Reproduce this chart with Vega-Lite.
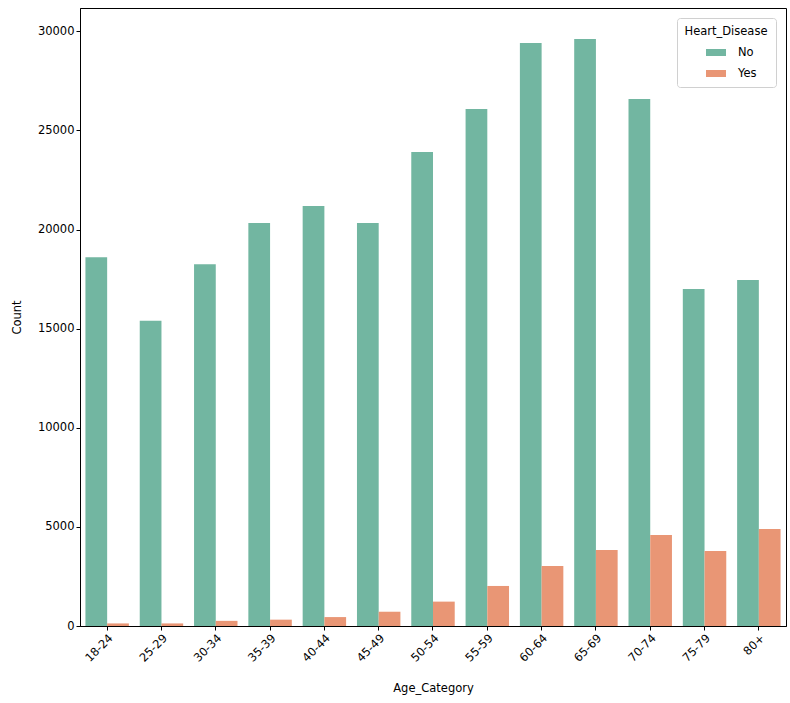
{
  "$schema": "https://vega.github.io/schema/vega-lite/v6.json",
  "width": 706,
  "height": 618,
  "autosize": {"type": "none"},
  "padding": {"left": 80, "top": 8, "right": 4, "bottom": 77},
  "background": "white",
  "config": {
    "font": "DejaVu Sans",
    "view": {"stroke": "black", "strokeWidth": 1},
    "axis": {"grid": false, "domainColor": "black", "tickColor": "black", "labelColor": "black", "titleColor": "black", "labelFontSize": 11.5, "titleFontSize": 11.5, "titleFontWeight": "normal", "tickSize": 4}
  },
  "data": {
    "values": [
      {"Age_Category": "18-24", "Heart_Disease": "No", "Count": 18600},
      {"Age_Category": "18-24", "Heart_Disease": "Yes", "Count": 130},
      {"Age_Category": "25-29", "Heart_Disease": "No", "Count": 15400},
      {"Age_Category": "25-29", "Heart_Disease": "Yes", "Count": 130},
      {"Age_Category": "30-34", "Heart_Disease": "No", "Count": 18250},
      {"Age_Category": "30-34", "Heart_Disease": "Yes", "Count": 260},
      {"Age_Category": "35-39", "Heart_Disease": "No", "Count": 20330},
      {"Age_Category": "35-39", "Heart_Disease": "Yes", "Count": 320},
      {"Age_Category": "40-44", "Heart_Disease": "No", "Count": 21190},
      {"Age_Category": "40-44", "Heart_Disease": "Yes", "Count": 450},
      {"Age_Category": "45-49", "Heart_Disease": "No", "Count": 20330},
      {"Age_Category": "45-49", "Heart_Disease": "Yes", "Count": 720},
      {"Age_Category": "50-54", "Heart_Disease": "No", "Count": 23920},
      {"Age_Category": "50-54", "Heart_Disease": "Yes", "Count": 1230},
      {"Age_Category": "55-59", "Heart_Disease": "No", "Count": 26080},
      {"Age_Category": "55-59", "Heart_Disease": "Yes", "Count": 2020},
      {"Age_Category": "60-64", "Heart_Disease": "No", "Count": 29410},
      {"Age_Category": "60-64", "Heart_Disease": "Yes", "Count": 3030},
      {"Age_Category": "65-69", "Heart_Disease": "No", "Count": 29620},
      {"Age_Category": "65-69", "Heart_Disease": "Yes", "Count": 3830},
      {"Age_Category": "70-74", "Heart_Disease": "No", "Count": 26590},
      {"Age_Category": "70-74", "Heart_Disease": "Yes", "Count": 4590},
      {"Age_Category": "75-79", "Heart_Disease": "No", "Count": 17000},
      {"Age_Category": "75-79", "Heart_Disease": "Yes", "Count": 3780},
      {"Age_Category": "80+", "Heart_Disease": "No", "Count": 17460},
      {"Age_Category": "80+", "Heart_Disease": "Yes", "Count": 4890}
    ]
  },
  "mark": {"type": "bar"},
  "encoding": {
    "x": {
      "field": "Age_Category", "type": "nominal", "sort": null,
      "scale": {"paddingInner": 0.2, "paddingOuter": 0.1},
      "axis": {"labelAngle": -45, "title": "Age_Category", "titleY": 56}
    },
    "xOffset": {"field": "Heart_Disease", "type": "nominal", "scale": {"paddingInner": 0}},
    "y": {
      "field": "Count", "type": "quantitative",
      "scale": {"domain": [0, 31180], "nice": false},
      "axis": {"values": [0, 5000, 10000, 15000, 20000, 25000, 30000], "format": "d", "title": "Count", "titleX": -58}
    },
    "color": {
      "field": "Heart_Disease", "type": "nominal",
      "scale": {"domain": ["No", "Yes"], "range": ["#72b6a1", "#e99675"]},
      "legend": {
        "orient": "top-right", "offset": 10, "title": "Heart_Disease",
        "titleFontWeight": "normal", "titleFontSize": 11.5, "labelFontSize": 11.5,
        "titleAnchor": "middle", "titleColor": "black", "labelColor": "black",
        "fillColor": "white", "strokeColor": "#d0d0d0", "cornerRadius": 3, "padding": 8,
        "symbolType": "M-1,-0.35H1V0.35H-1Z", "symbolSize": 400, "symbolStrokeWidth": 0,
        "labelOffset": 12, "rowPadding": 5, "symbolOffset": 10
      }
    }
  }
}
